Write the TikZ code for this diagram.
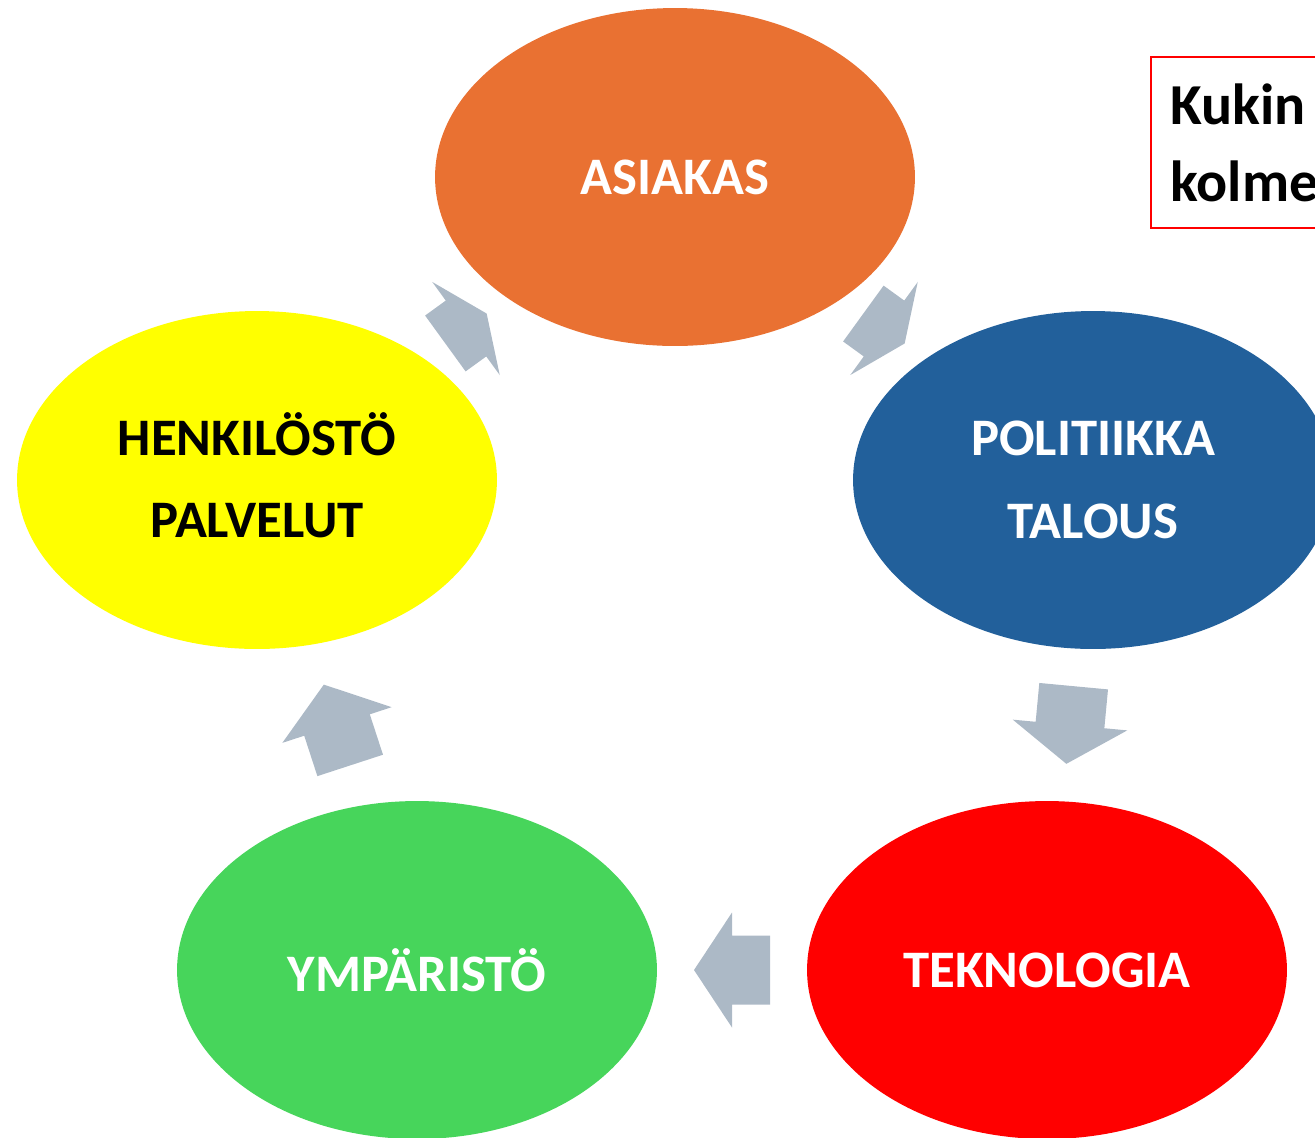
\documentclass[tikz,border=0pt]{standalone}
\usepackage{fontspec}
\setmainfont{Carlito}
\usepackage{xcolor}
\usepackage{tikz}
\usetikzlibrary{shapes.geometric}

\definecolor{asiakasoranssi}{HTML}{E97132}
\definecolor{politiikkasininen}{HTML}{22609B}
\definecolor{henkilostokeltainen}{HTML}{FFFF00}
\definecolor{ymparistovihrea}{HTML}{47D55B}
\definecolor{teknologiapunainen}{HTML}{FF0000}
\definecolor{nuoliharmaa}{HTML}{ACB9C6}

\begin{document}
\begin{tikzpicture}[x = 0.02cm, y = -0.02cm,
		kaari/.pic = {\fill[nuoliharmaa] (-#1, -34.5) -- (0, -34.5) -- (0, -57.5) -- (#1, 0) -- (0, 57.5) -- (0, 34.5) -- (-#1, 34.5) -- cycle;}]
			\tikzstyle{soikio} = [ellipse, minimum width = 9.6cm, minimum height = 6.76cm, inner sep = 0pt, align = center, font = \fontsize{30}{47}\selectfont\bfseries]
			\tikzstyle{valkoinen} = [text = white]
			\useasboundingbox (0, 0) rectangle (1315, 1137);

			\path (675, 177) node[soikio, valkoinen, fill = asiakasoranssi] (asiakas) {ASIAKAS};
			\path (1093, 480) node[soikio, valkoinen, fill = politiikkasininen] (politiikka) {POLITIIKKA\\TALOUS};
			\path (1047, 970) node[soikio, valkoinen, fill = teknologiapunainen] (teknologia) {TEKNOLOGIA};
			\path (417, 970) node[soikio, valkoinen, fill = ymparistovihrea] (ymparisto) {YMPÄRISTÖ};
			\path (257, 480) node[soikio, fill = henkilostokeltainen, text depth = 0.2cm] (henkilosto) {HENKILÖSTÖ\\PALVELUT};

			\path (1150, 56) node[draw = red, line width = 1.1pt, anchor = north west, align = left, text width = 5cm, inner xsep = 0.39cm, inner ysep = 0.53cm, font = \fontsize{33}{44}\selectfont\bfseries] (ohje) {Kukin\\kolme};

			\path[allow upside down] (henkilosto) -- (asiakas) pic[pos = 0.5, sloped] {kaari = 25.5};
			\path[allow upside down] (asiakas) -- (politiikka) pic[pos = 0.5, sloped] {kaari = 25.5};
			\path[allow upside down] (politiikka) -- (teknologia) pic[pos = 0.5, sloped] {kaari = 39};
			\path[allow upside down] (teknologia) -- (ymparisto) pic[pos = 0.5, sloped] {kaari = 38};
			\path[allow upside down] (ymparisto) -- (henkilosto) pic[pos = 0.5, sloped] {kaari = 42.5};
		\end{tikzpicture}
\end{document}
